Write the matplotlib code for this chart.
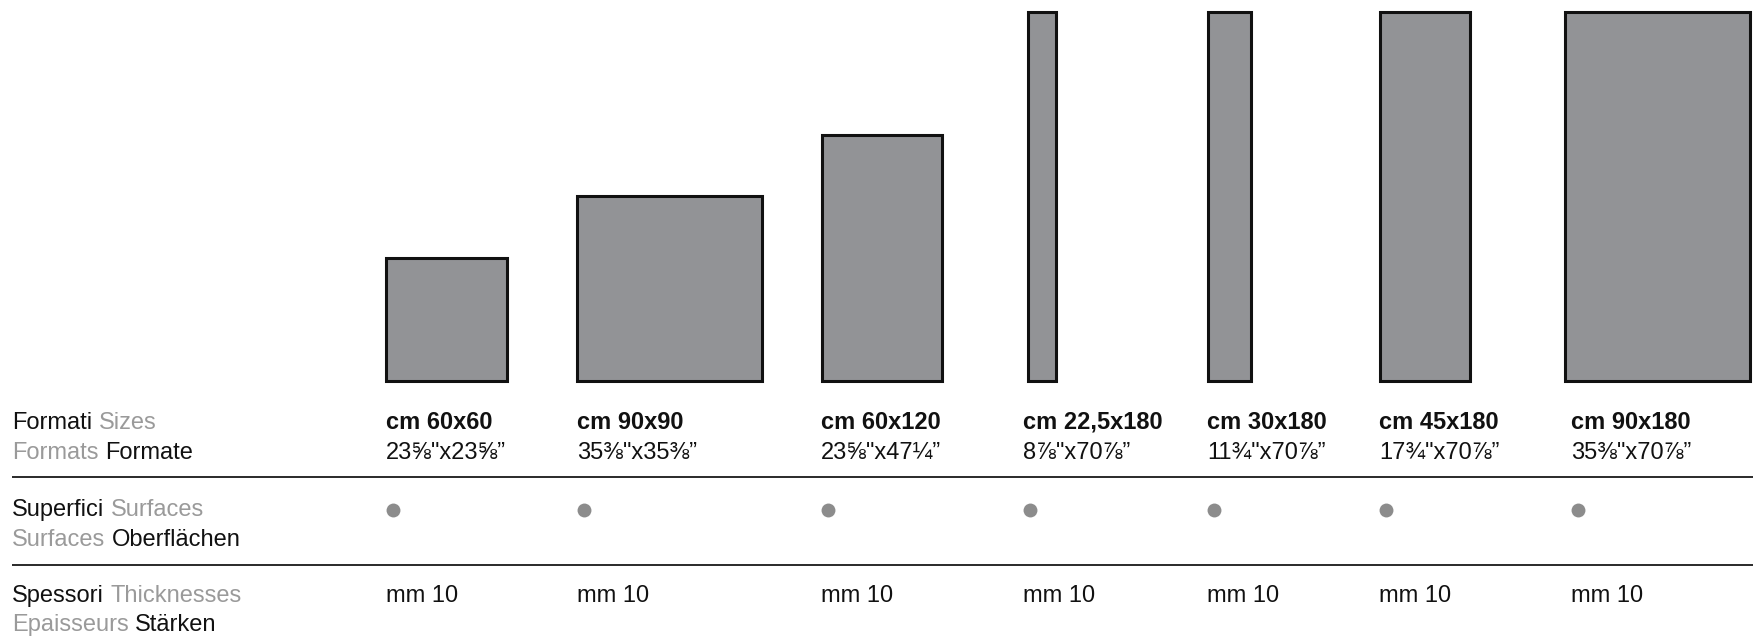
import matplotlib
matplotlib.use("Agg")
import matplotlib.pyplot as plt

# ---------------- data ----------------
size_labels = ["cm 60x60", "cm 90x90", "cm 60x120", "cm 22,5x180",
               "cm 30x180", "cm 45x180", "cm 90x180"]
imperial_labels = ['23⅝"x23⅝”', '35⅜"x35⅜”', '23⅝"x47¼”', '8⅞"x70⅞”',
                   '11¾"x70⅞”', '17¾"x70⅞”', '35⅜"x70⅞”']
heights_cm = [60, 90, 120, 180, 180, 180, 180]
# widths as drawn in the picture (cm-scale)
drawn_widths_cm = [59, 90, 58.5, 13.7, 20.6, 44, 90]
surfaces = [True, True, True, True, True, True, True]
thickness_labels = ["mm 10"] * 7

row_titles = [
    [("Formati", "k"), ("Sizes", "g")],
    [("Formats", "g"), ("Formate", "k")],
    [("Superfici", "k"), ("Surfaces", "g")],
    [("Surfaces", "g"), ("Oberflächen", "k")],
    [("Spessori", "k"), ("Thicknesses", "g")],
    [("Epaisseurs", "g"), ("Stärken", "k")],
]

# ---------------- layout / style ----------------
W, H = 1753, 636
SCALE = 2.045         # px per cm
BASE = 380.5          # baseline of the rectangles (px from top)
rect_left = [386.5, 577.5, 822.5, 1028, 1208.5, 1380.5, 1565.5]
label_left = [386, 577, 821, 1023, 1207, 1379, 1571]
title_x = 12
row_base = [429, 459, 516, 546, 602, 631]
dot_y = 510
lines_y = [477, 565]

BLACK = "#111111"
GRAY = "#9a9a9a"
FILL = "#929396"
EDGE = "#111111"
DOT = "#8c8c8c"
FS = 17
FONT = ["Liberation Sans", "DejaVu Sans"]

fig = plt.figure(figsize=(W / 100, H / 100), dpi=100)
ax = fig.add_axes([0, 0, 1, 1])
ax.set_xlim(0, W)
ax.set_ylim(H, 0)
ax.axis("off")

# rectangles (format shapes)
ax.bar(rect_left, [-h * SCALE for h in heights_cm],
       width=[w * SCALE for w in drawn_widths_cm], bottom=BASE, align="edge",
       color=FILL, edgecolor=EDGE, linewidth=2.2)

# separator lines
for y in lines_y:
    ax.plot([title_x, W], [y, y], color="#2a2a2a", lw=1.4,
            solid_capstyle="butt")

# column texts
for i in range(len(size_labels)):
    ax.text(label_left[i], row_base[0], size_labels[i], fontsize=FS,
            fontweight="bold", color=BLACK, family=FONT, va="baseline")
    ax.text(label_left[i], row_base[1], imperial_labels[i], fontsize=FS,
            color=BLACK, family=FONT, va="baseline")
    ax.text(label_left[i], row_base[4], thickness_labels[i], fontsize=FS,
            color=BLACK, family=FONT, va="baseline")
ax.plot([x + 7 for x, s in zip(label_left, surfaces) if s],
        [dot_y for s in surfaces if s], "o", color=DOT, markersize=10,
        markeredgewidth=0, linestyle="none")

# two-colour row titles
renderer = fig.canvas.get_renderer()
inv = ax.transData.inverted()
for r, ((w1, c1), (w2, c2)) in enumerate(row_titles):
    col1 = BLACK if c1 == "k" else GRAY
    col2 = BLACK if c2 == "k" else GRAY
    y = row_base[r]
    full = ax.text(title_x, y, w1 + " " + w2, fontsize=FS, family=FONT,
                   va="baseline", alpha=0)
    bb = full.get_window_extent(renderer=renderer)
    xr = inv.transform((bb.x1, bb.y0))[0]
    full.remove()
    ax.text(title_x, y, w1, fontsize=FS, family=FONT, va="baseline", color=col1)
    ax.text(xr, y, w2, fontsize=FS, family=FONT, va="baseline", ha="right",
            color=col2)

fig.savefig("out.png", dpi=100, facecolor="white")
